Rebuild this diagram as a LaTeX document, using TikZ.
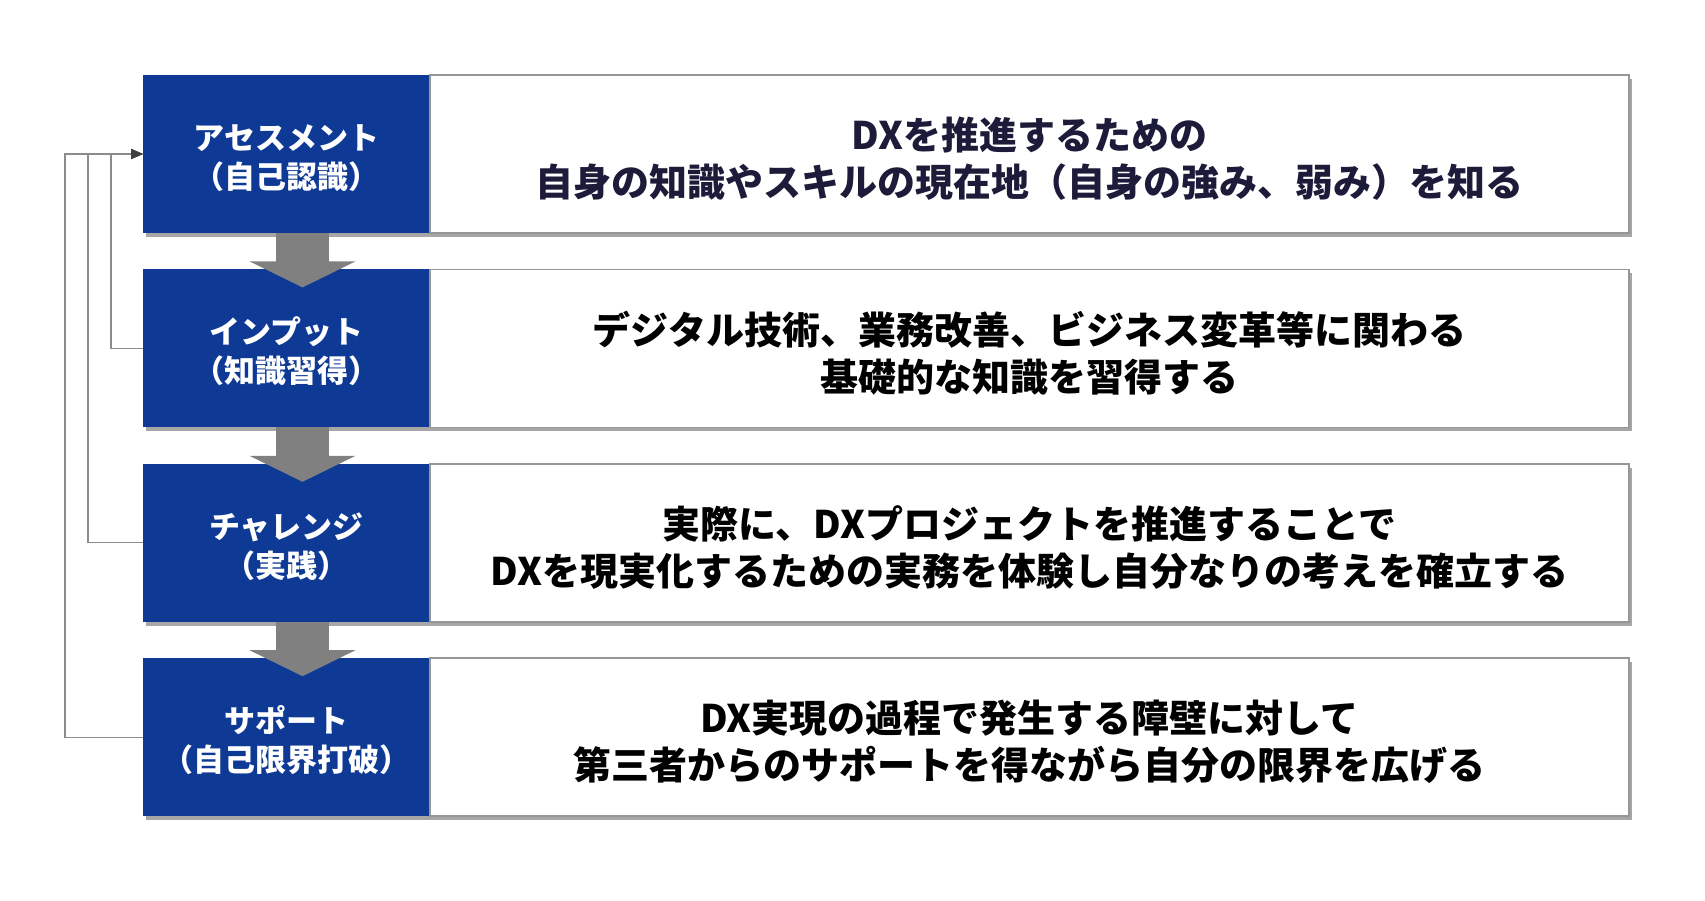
\documentclass[tikz,border=0pt]{standalone}
\usepackage{fontspec}
\setmainfont{Noto Sans CJK JP Black}
\usetikzlibrary{positioning, calc, arrows.meta, shadows}

\definecolor{stageblue}{RGB}{14,58,150}
\definecolor{framegray}{RGB}{150,150,150}
\definecolor{arrowgray}{RGB}{128,128,128}
\definecolor{linegray}{RGB}{140,140,140}
\definecolor{tipgray}{RGB}{64,64,64}
\definecolor{inknavy}{RGB}{28,28,58}

\tikzset{
    boxshadow/.style={drop shadow={shadow xshift=2.5pt, shadow yshift=-3pt, opacity=0.35, fill=black}},
    stage/.style={fill=stageblue, text=white, minimum width=215.25pt, minimum height=118.5pt,
        inner sep=0pt, outer sep=0pt, align=center, boxshadow,
        font=\fontsize{23.25pt}{29.25pt}\selectfont,
        text height=51.7pt, text depth=0pt},
    desc/.style={draw=framegray, line width=1.1pt, fill=white, text=black, minimum width=899.25pt,
        minimum height=118.5pt, inner sep=0pt, outer sep=0pt, align=center, boxshadow,
        font=\fontsize{28.5pt}{35.25pt}\selectfont,
        text height=64.1pt, text depth=0pt},
    flow/.style={draw=arrowgray, line width=39.75pt, -{Triangle[length=19.5pt, width=78.75pt]}},
    backline/.style={draw=linegray, line width=1pt, -{Triangle[length=9pt, width=7.5pt, color=tipgray]}}
}

\begin{document}
\begin{tikzpicture}[x=0.75pt, y=0.75pt]
    \useasboundingbox (0,0) rectangle (1705,-900);

    % stages
    \node[stage, anchor=north west] (a1) at (143,-75) {アセスメント\\（自己認識）};
    \node[desc, text=inknavy, right=0pt of a1] (d1) {DXを推進するための\\自身の知識やスキルの現在地（自身の強み、弱み）を知る};
    \node[stage, below=27.3pt of a1] (a2) {インプット\\（知識習得）};
    \node[desc, right=0pt of a2] (d2) {デジタル技術、業務改善、ビジネス変革等に関わる\\基礎的な知識を習得する};
    \node[stage, below=27.3pt of a2] (a3) {チャレンジ\\（実践）};
    \node[desc, right=0pt of a3] (d3) {実際に、DXプロジェクトを推進することで\\DXを現実化するための実務を体験し自分なりの考えを確立する};
    \node[stage, below=27.3pt of a3] (a4) {サポート\\（自己限界打破）};
    \node[desc, right=0pt of a4] (d4) {DX実現の過程で発生する障壁に対して\\第三者からのサポートを得ながら自分の限界を広げる};

    % flow arrows
    \foreach \u/\v in {a1/a2, a2/a3, a3/a4}
        \draw[flow] ($(\u.south)+(16,0)$) -- ($(\v.north)+(16,-18)$);

    % feedback lines
    \draw[backline] (a2.west) -- ++(-32,0) |- (a1.west);
    \draw[backline] (a3.west) -- ++(-55,0) |- (a1.west);
    \draw[backline] (a4.west) -- ++(-78,0) |- (a1.west);
\end{tikzpicture}
\end{document}
